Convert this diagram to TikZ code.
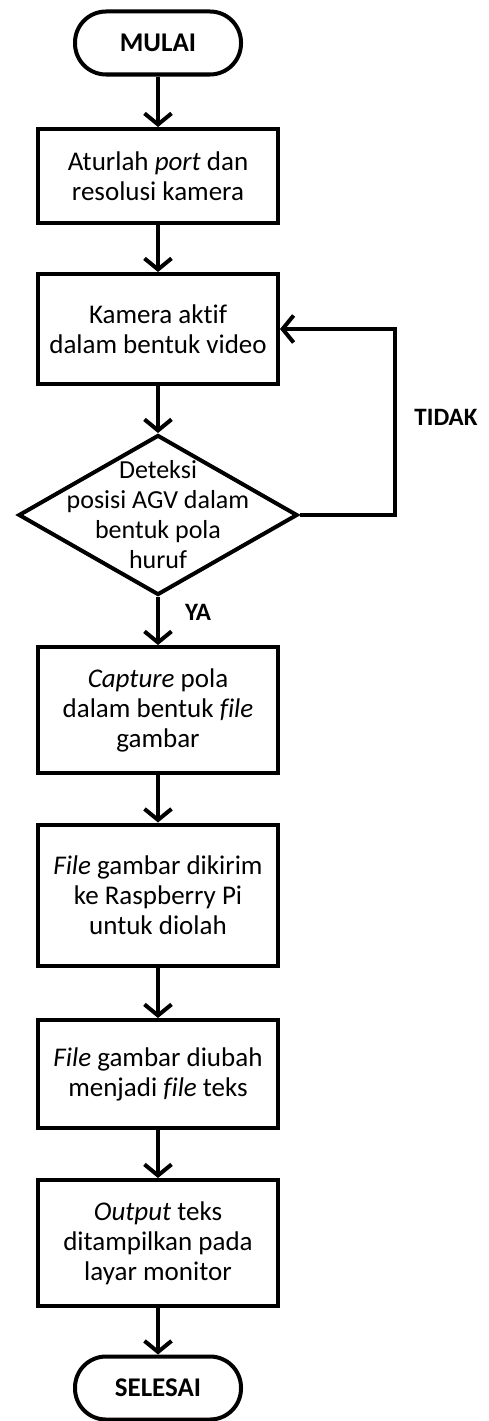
\documentclass[tikz,border=0pt]{standalone}
\usepackage{fontspec}
\setmainfont{Carlito}[Ligatures=NoCommon]
\usetikzlibrary{shapes.geometric,arrows.meta}

\tikzset{
    terminal/.style={draw, line width=4pt, rounded corners=31pt, minimum width=166pt, minimum height=63pt, font=\fontsize{27}{30}\selectfont\bfseries},
    proses/.style={draw, line width=4pt, minimum width=240pt, align=center, font=\fontsize{27}{30}\selectfont},
    keputusan/.style={draw, diamond, line width=4pt, shape aspect=1.744, minimum width=279pt, minimum height=160pt, inner xsep=-28pt, inner ysep=-22pt, align=center, font=\fontsize{26}{30}\selectfont},
    jawab/.style={font=\fontsize{25}{30}\selectfont\bfseries},
    panah/.style={line width=4pt, -{Straight Barb[length=11pt,width=27pt]}}
}

\begin{document}
\begin{tikzpicture}[x=1pt,y=1pt]
    \useasboundingbox (0,0) rectangle (488,-1421);

    % Start and setup
    \node[terminal] (mulai) at (158,-43) {MULAI};
    \node[proses, minimum height=94pt] (atur) at (158,-176) {Aturlah \textit{port} dan\\resolusi kamera};
    \node[proses, minimum height=110pt] (kamera) at (158,-329) {Kamera aktif\\dalam bentuk video};

    % Decision
    \node[keputusan] (deteksi) at (158,-515) {Deteksi\\posisi AGV dalam\\bentuk pola\\huruf};
    \node[jawab] (tidak) at (446,-417) {TIDAK};
    \node[jawab] (ya) at (198,-612) {YA};
    \coordinate (balik) at (395,-515);

    % Processing steps
    \node[proses, minimum height=126pt] (capture) at (158,-710) {\textit{Capture} pola\\dalam bentuk \textit{file}\\gambar};
    \node[proses, minimum height=141pt] (kirim) at (158,-895) {\textit{File} gambar dikirim\\ke Raspberry Pi\\untuk diolah};
    \node[proses, minimum height=108pt] (ubah) at (158,-1074) {\textit{File} gambar diubah\\menjadi \textit{file} teks};
    \node[proses, minimum height=126pt] (tampil) at (158,-1243) {\textit{Output} teks\\ditampilkan pada\\layar monitor};
    \node[terminal] (selesai) at (158,-1388) {SELESAI};

    % Arrows
    \draw[panah] (mulai) -- (atur);
    \draw[panah] (atur) -- (kamera);
    \draw[panah] (kamera) -- (deteksi);
    \draw[panah] (deteksi.east) -- (balik) |- (kamera.east);
    \draw[panah] (deteksi) -- (capture);
    \draw[panah] (capture) -- (kirim);
    \draw[panah] (kirim) -- (ubah);
    \draw[panah] (ubah) -- (tampil);
    \draw[panah] (tampil) -- (selesai);
\end{tikzpicture}
\end{document}
